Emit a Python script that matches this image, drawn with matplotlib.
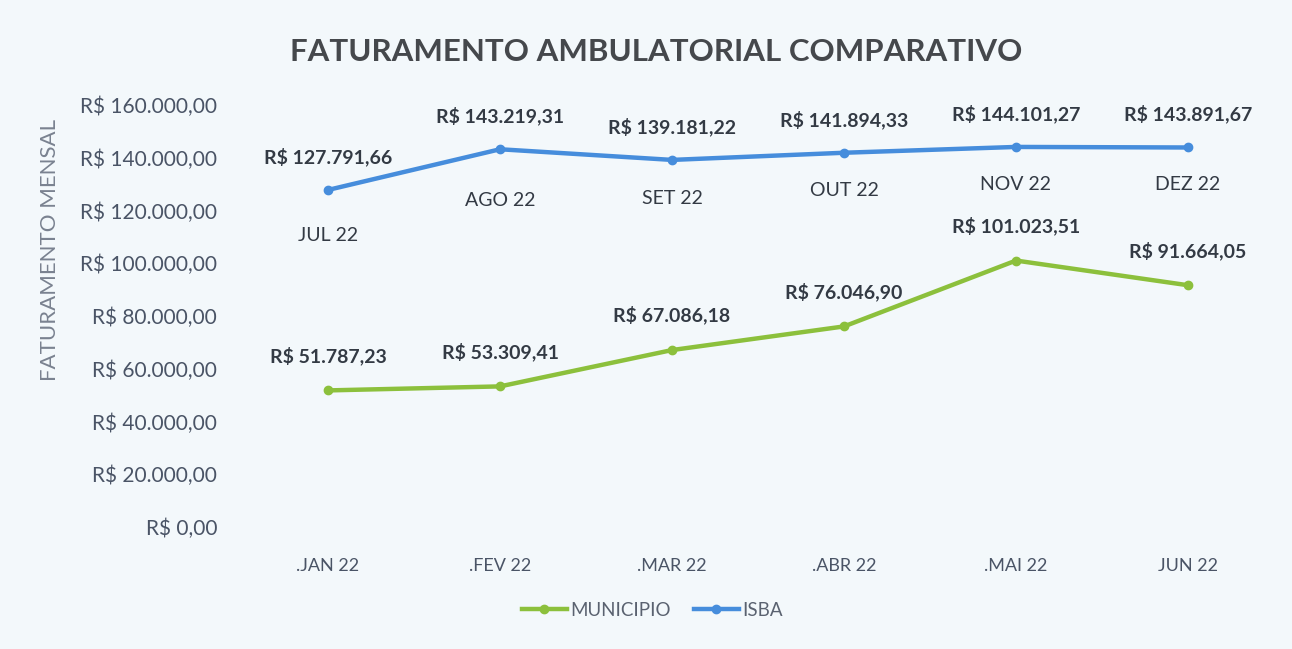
import matplotlib
matplotlib.use("Agg")
import matplotlib.pyplot as plt
from matplotlib.ticker import FuncFormatter

months_1 = [".JAN 22", ".FEV 22", ".MAR 22", ".ABR 22", ".MAI 22", "JUN 22"]
months_2 = ["JUL 22", "AGO 22", "SET 22", "OUT 22", "NOV 22", "DEZ 22"]
municipio = [51787.23, 53309.41, 67086.18, 76046.90, 101023.51, 91664.05]
isba = [127791.66, 143219.31, 139181.22, 141894.33, 144101.27, 143891.67]
y_ticks = [0, 20000, 40000, 60000, 80000, 100000, 120000, 140000, 160000]


def brl(v, pos=None):
    s = f"{v:,.2f}"
    s = s.replace(",", "X").replace(".", ",").replace("X", ".")
    return "R$ " + s


plt.rcParams['font.family'] = ['Lato', 'DejaVu Sans']

fig = plt.figure(figsize=(12.92, 6.49), dpi=100)
fig.patch.set_facecolor('#f3f8fb')
ax = fig.add_axes([242 / 1292, 1 - 527 / 649, 1032 / 1292, 422 / 649])
ax.set_facecolor('none')

x = list(range(len(months_1)))
green = '#8cc03c'
blue = '#468ddc'
ax.plot(x, municipio, color=green, lw=3.2, marker='o', ms=6, label='MUNICIPIO')
ax.plot(x, isba, color=blue, lw=3.2, marker='o', ms=6, label='ISBA')

ax.set_xlim(-0.5, len(x) - 0.5)
ax.set_ylim(0, 160000)
ax.set_yticks(y_ticks)
ax.yaxis.set_major_formatter(FuncFormatter(brl))
ax.set_xticks(x)
ax.set_xticklabels(months_1)
for s in ax.spines.values():
    s.set_visible(False)
ax.tick_params(length=0)
ax.tick_params(axis='y', pad=18, labelsize=15, labelcolor='#4a5466')
ax.tick_params(axis='x', pad=22, labelsize=13, labelcolor='#4a5466')

lab_col = '#333a44'
for xi, v in zip(x, municipio):
    ax.annotate(brl(v), (xi, v), xytext=(0, 25), textcoords='offset points',
                ha='center', va='center', fontsize=14, fontweight='bold',
                color=lab_col)
below = [33, 37, 28, 27, 27, 27]
for xi, v, m, b in zip(x, isba, months_2, below):
    ax.annotate(brl(v), (xi, v), xytext=(0, 24), textcoords='offset points',
                ha='center', va='center', fontsize=14, fontweight='bold',
                color=lab_col)
    ax.annotate(m, (xi, v), xytext=(0, -b), textcoords='offset points',
                ha='center', va='center', fontsize=14, color=lab_col)

fig.text(50 / 1292, 1 - 250 / 649, 'FATURAMENTO MENSAL', rotation=90,
         ha='center', va='center', fontsize=16, color='#7a8290')

fig.text(656 / 1292, 1 - 52 / 649, 'FATURAMENTO AMBULATORIAL COMPARATIVO',
         ha='center', va='center', fontsize=22.5, fontweight='bold',
         color='#45484c')

leg = fig.legend(loc='center', bbox_to_anchor=(0.505, 1 - 610 / 649), ncol=2,
                 frameon=False, fontsize=13.5, handlelength=2.4,
                 columnspacing=1.2, handletextpad=0.2)
for t in leg.get_texts():
    t.set_color('#5a6270')

fig.savefig('out.png', dpi=100, facecolor=fig.get_facecolor())
